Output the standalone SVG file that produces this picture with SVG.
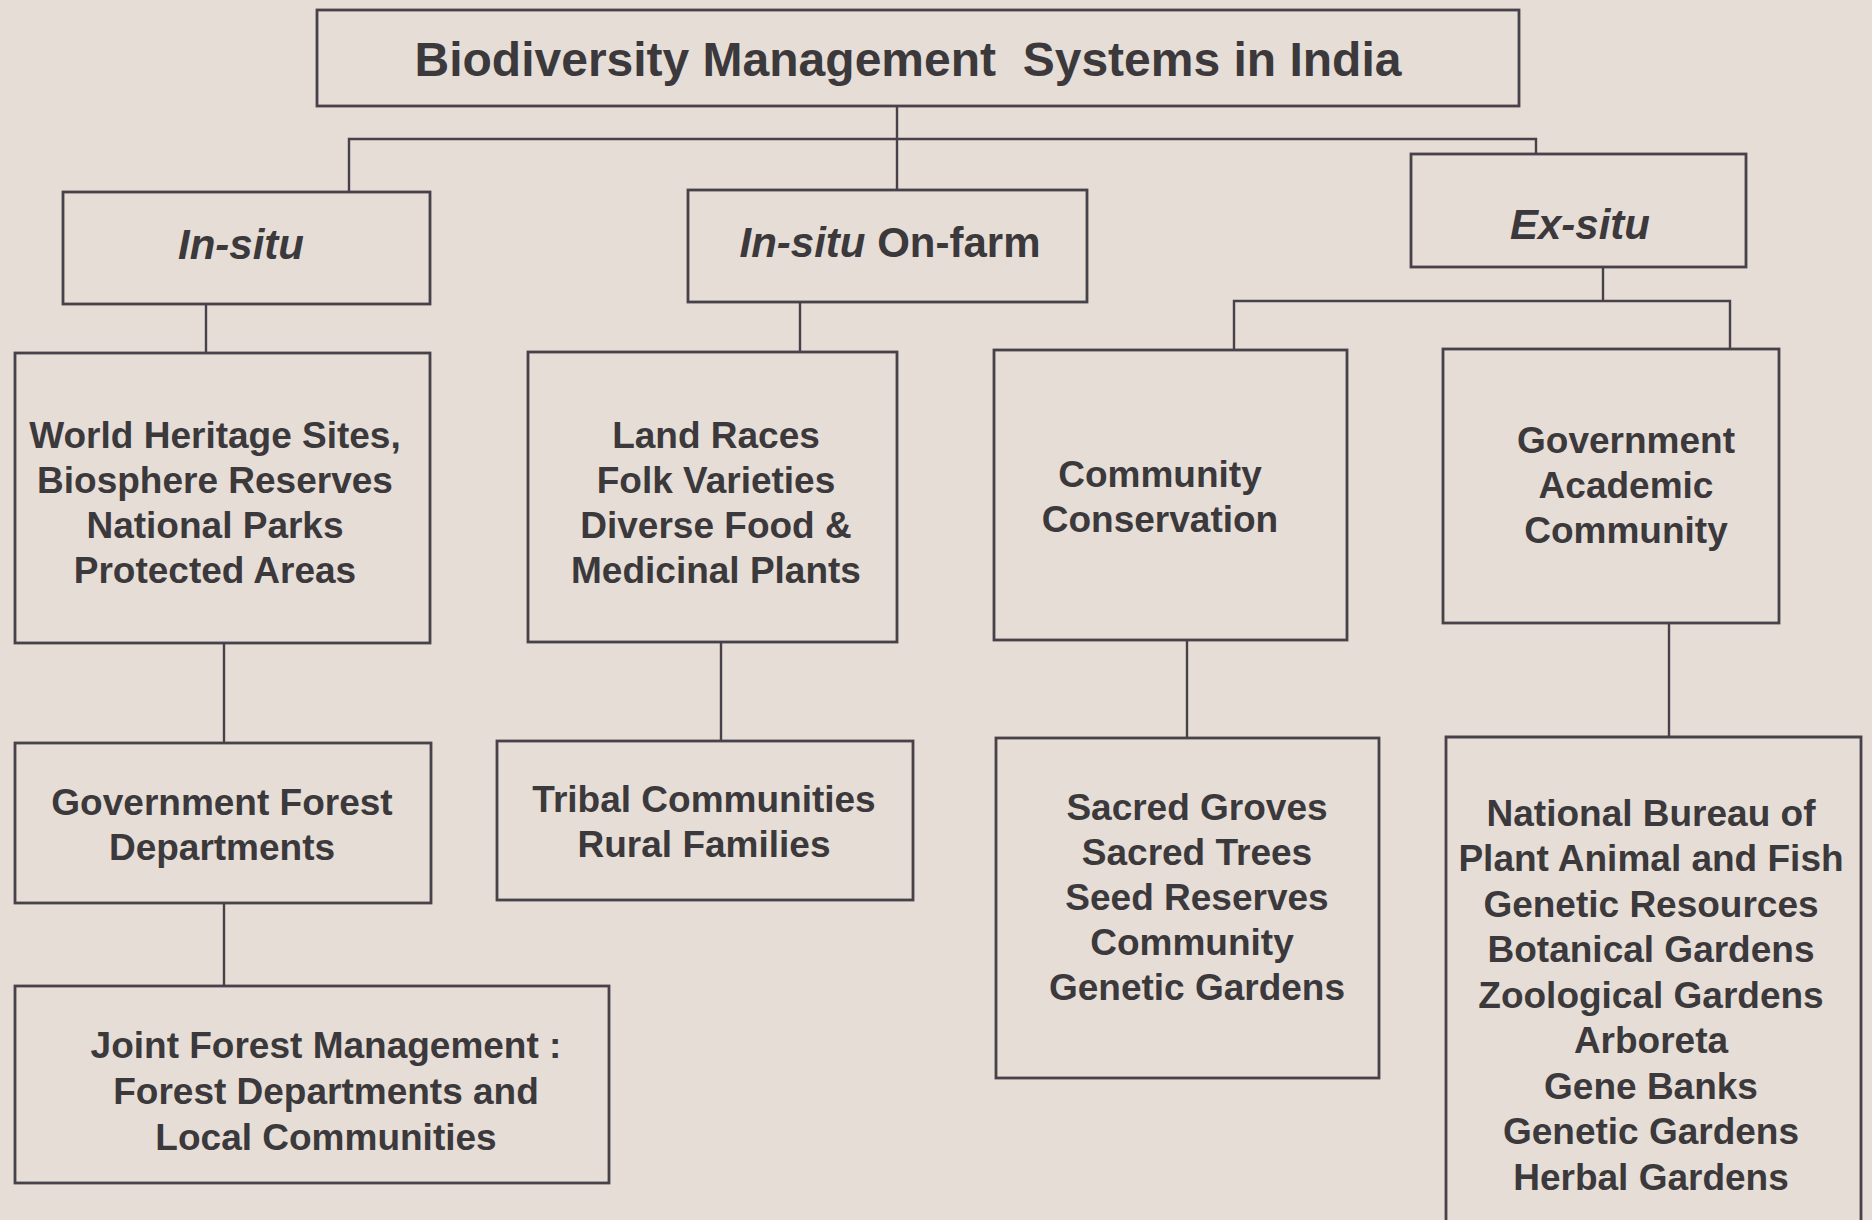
<svg xmlns="http://www.w3.org/2000/svg" width="1872" height="1220" viewBox="0 0 1872 1220">
<style>
.bg{fill:#e6ddd6}
.box{fill:none;stroke:#47424a;stroke-width:2.8}
.ln{fill:none;stroke:#47424a;stroke-width:2.4}
text{font-family:"Liberation Sans",Arial,sans-serif;font-weight:bold;fill:#3b393b;text-anchor:middle}
.t1{font-size:48px;white-space:pre}
.t2{font-size:42px}
.t3{font-size:37px}
.it{font-style:italic}
</style>
<rect class="bg" x="0" y="0" width="1872" height="1220"/>
<g id="connectors">
<path class="ln" d="M897,106 V190"/>
<path class="ln" d="M349,192 V139 H1536 V154"/>
<path class="ln" d="M206,304 V353"/>
<path class="ln" d="M800,302 V352"/>
<path class="ln" d="M1603,267 V301"/>
<path class="ln" d="M1234,350 V301 H1730 V349"/>
<path class="ln" d="M224,643 V743"/>
<path class="ln" d="M224,903 V986"/>
<path class="ln" d="M721,642 V741"/>
<path class="ln" d="M1187,640 V738"/>
<path class="ln" d="M1669,623 V737"/>
</g>
<g id="title">
<rect class="box" x="317" y="10" width="1202" height="96"/>
<text class="t1" x="908" y="76" xml:space="preserve">Biodiversity Management  Systems in India</text>
</g>
<g id="insitu">
<rect class="box" x="63" y="192" width="367" height="112"/>
<text class="t2 it" x="241" y="259">In-situ</text>
</g>
<g id="onfarm">
<rect class="box" x="688" y="190" width="399" height="112"/>
<text class="t2" x="890" y="257"><tspan class="it">In-situ</tspan> On-farm</text>
</g>
<g id="exsitu">
<rect class="box" x="1411" y="154" width="335" height="113"/>
<text class="t2 it" x="1580" y="239">Ex-situ</text>
</g>
<g id="world-heritage">
<rect class="box" x="15" y="353" width="415" height="290"/>
<text class="t3" x="215" y="448">World Heritage Sites,</text>
<text class="t3" x="215" y="493">Biosphere Reserves</text>
<text class="t3" x="215" y="538">National Parks</text>
<text class="t3" x="215" y="583">Protected Areas</text>
</g>
<g id="land-races">
<rect class="box" x="528" y="352" width="369" height="290"/>
<text class="t3" x="716" y="448">Land Races</text>
<text class="t3" x="716" y="493">Folk Varieties</text>
<text class="t3" x="716" y="538">Diverse Food &amp;</text>
<text class="t3" x="716" y="583">Medicinal Plants</text>
</g>
<g id="community-conservation">
<rect class="box" x="994" y="350" width="353" height="290"/>
<text class="t3" x="1160" y="487">Community</text>
<text class="t3" x="1160" y="532">Conservation</text>
</g>
<g id="gov-academic">
<rect class="box" x="1443" y="349" width="336" height="274"/>
<text class="t3" x="1626" y="453">Government</text>
<text class="t3" x="1626" y="498">Academic</text>
<text class="t3" x="1626" y="543">Community</text>
</g>
<g id="gov-forest">
<rect class="box" x="15" y="743" width="416" height="160"/>
<text class="t3" x="222" y="815">Government Forest</text>
<text class="t3" x="222" y="860">Departments</text>
</g>
<g id="tribal">
<rect class="box" x="497" y="741" width="416" height="159"/>
<text class="t3" x="704" y="812">Tribal Communities</text>
<text class="t3" x="704" y="857">Rural Families</text>
</g>
<g id="jfm">
<rect class="box" x="15" y="986" width="594" height="197"/>
<text class="t3" x="326" y="1058">Joint Forest Management :</text>
<text class="t3" x="326" y="1104">Forest Departments and</text>
<text class="t3" x="326" y="1150">Local Communities</text>
</g>
<g id="sacred">
<rect class="box" x="996" y="738" width="383" height="340"/>
<text class="t3" x="1197" y="820">Sacred Groves</text>
<text class="t3" x="1197" y="865">Sacred Trees</text>
<text class="t3" x="1197" y="910">Seed Reserves</text>
<text class="t3" x="1192" y="955">Community</text>
<text class="t3" x="1197" y="1000">Genetic Gardens</text>
</g>
<g id="national-bureau">
<path class="box" d="M1446,1222 V737 H1861 V1222"/>
<text class="t3" x="1651" y="826">National Bureau of</text>
<text class="t3" x="1651" y="871">Plant Animal and Fish</text>
<text class="t3" x="1651" y="917">Genetic Resources</text>
<text class="t3" x="1651" y="962">Botanical Gardens</text>
<text class="t3" x="1651" y="1008">Zoological Gardens</text>
<text class="t3" x="1651" y="1053">Arboreta</text>
<text class="t3" x="1651" y="1099">Gene Banks</text>
<text class="t3" x="1651" y="1144">Genetic Gardens</text>
<text class="t3" x="1651" y="1190">Herbal Gardens</text>
</g>
</svg>
